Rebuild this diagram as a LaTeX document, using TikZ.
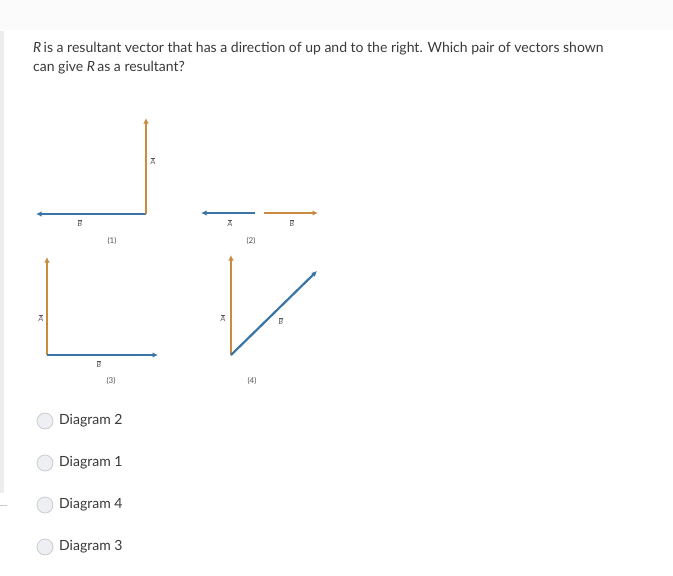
\documentclass[tikz,border=0pt]{standalone}
\usepackage{fontspec}
\setmainfont{Lato}
\usetikzlibrary{arrows.meta}
\definecolor{vorange}{HTML}{C98A42}
\definecolor{vblue}{HTML}{3B75A5}
\definecolor{txtgray}{HTML}{3A3A3A}
\definecolor{lblgray}{HTML}{555555}
\definecolor{radiofill}{HTML}{EDEFF2}
\definecolor{radiodraw}{HTML}{C9CCD0}
\tikzset{
  vec/.style={line width=2.2pt,-{Latex[length=5.5pt,width=5.5pt]}},
  vecO/.style={vec,vorange},
  vecB/.style={vec,vblue},
  lbl/.style={font=\fontsize{7.5}{8}\selectfont,text=lblgray,inner sep=0pt},
  num/.style={font=\fontsize{8}{9}\selectfont,text=lblgray,inner sep=0pt},
  radio/.style={circle,draw=radiodraw,fill=radiofill,minimum size=16pt,inner sep=0pt,line width=0.8pt},
  opt/.style={font=\fontsize{14}{16}\selectfont,text=txtgray,anchor=west,inner sep=0pt},
}
\newcommand{\vlab}[1]{$\overline{\mbox{\itshape #1}}$}
\begin{document}
\begin{tikzpicture}[x=1pt,y=-1pt]
\useasboundingbox (0,0) rectangle (673,576);
\fill[white] (0,0) rectangle (673,576);
\fill[black!1.5] (0,0) rectangle (673,30);
\fill[black!7] (0,31) rectangle (4,493);
\draw[black!20,line width=0.6pt] (0,505) -- (7,505);
% question
\node[font=\fontsize{14}{19}\selectfont,text=txtgray,anchor=north west,align=left,inner sep=0pt] (q) at (33,42)
 {\textit{R}\,is a resultant vector that has a direction of up and to the right. Which pair of vectors shown\\can give \textit{R}\,as a resultant?};
% diagram 1
\coordinate (o1) at (146,214);
\coordinate (a1) at (146,118);
\coordinate (b1) at (36,214);
\draw[vecB] (o1) -- (b1);
\draw[vecO] (o1) -- (a1);
\node[lbl] (la1) at (153,161) {\vlab{A}};
\node[lbl] (lb1) at (80,223) {\vlab{B}};
\node[num] (n1) at (112,241) {(1)};
% diagram 2
\coordinate (s2a) at (255,213);
\coordinate (e2a) at (201,213);
\coordinate (s2b) at (264,213);
\coordinate (e2b) at (318,213);
\draw[vecB] (s2a) -- (e2a);
\draw[vecO] (s2b) -- (e2b);
\node[lbl] (la2) at (230,223) {\vlab{A}};
\node[lbl] (lb2) at (292,223) {\vlab{B}};
\node[num] (n2) at (251,241) {(2)};
% diagram 3
\coordinate (o3) at (47,355);
\coordinate (a3) at (47,257);
\coordinate (b3) at (158,355);
\draw[vecO] (o3) -- (a3);
\draw[vecB] (o3) -- (b3);
\node[lbl] (la3) at (41,318) {\vlab{A}};
\node[lbl] (lb3) at (99,364) {\vlab{B}};
\node[num] (n3) at (111,381) {(3)};
% diagram 4
\coordinate (o4) at (231,355);
\coordinate (a4) at (231,255);
\coordinate (b4) at (317,271);
\draw[vecO] (o4) -- (a4);
\draw[vecB] (o4) -- (b4);
\node[lbl] (la4) at (223,318) {\vlab{A}};
\node[lbl] (lb4) at (281,321) {\vlab{B}};
\node[num] (n4) at (252,381) {(4)};
% options
\foreach \y/\t [count=\i] in {421/Diagram 2,463/Diagram 1,505/Diagram 4,547/Diagram 3}{
  \node[radio] (r\i) at (45,\y) {};
  \node[opt] (t\i) at (59,\y) {\t};
}
\end{tikzpicture}
\end{document}
